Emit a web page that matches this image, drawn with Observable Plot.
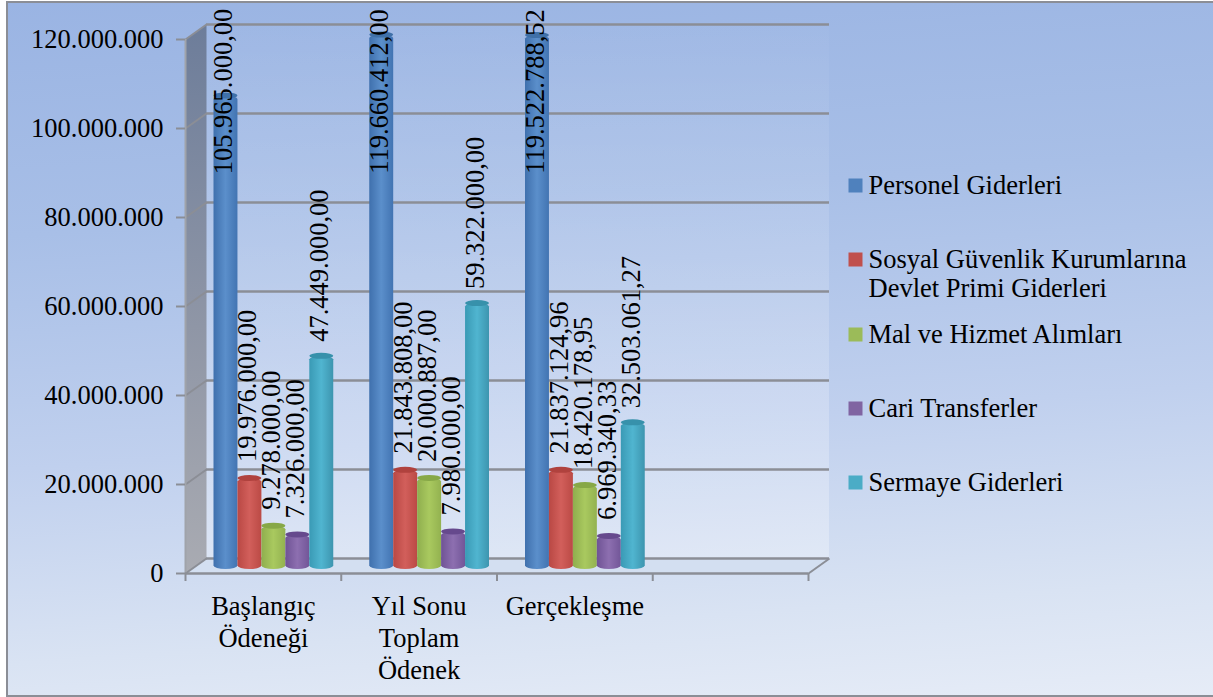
<!DOCTYPE html>
<html lang="tr">
<head>
<meta charset="utf-8">
<script src="https://cdn.jsdelivr.net/npm/d3@7"></script>
<script src="https://cdn.jsdelivr.net/npm/@observablehq/plot@0.6"></script>
<style>
  html, body { margin: 0; padding: 0; background: #fff; overflow: hidden; }
  #card { position: absolute; left: 6px; top: 1px; width: 1230px; height: 692px; border: 2px solid #8b8e96;
    background: linear-gradient(176deg, #9ab4e3 0%, #a8bfe7 30%, #c0d0ee 60%, #d9e3f3 85%, #e6ecf7 100%); }
  #chart { position: absolute; left: 0; top: 0; }
  svg { background: transparent !important; font-family: "Liberation Serif", serif; }
</style>
</head>
<body>
<div id="card"></div>
<div id="chart"></div>
<script>
const categories = ["Başlangıç\nÖdeneği", "Yıl Sonu\nToplam\nÖdenek", "Gerçekleşme"];
const seriesNames = ["Personel Giderleri", "Sosyal Güvenlik Kurumlarına\nDevlet Primi Giderleri", "Mal ve Hizmet Alımları", "Cari Transferler", "Sermaye Giderleri"];
const personel = [105965000.00, 119660412.00, 119522788.52];
const sosyal = [19976000.00, 21843808.00, 21837124.96];
const malHizmet = [9278000.00, 20000887.00, 18420178.95];
const cari = [7326000.00, 7980000.00, 6969340.33];
const sermaye = [47449000.00, 59322000.00, 32503061.27];
const yTicks = [0, 20000000, 40000000, 60000000, 80000000, 100000000, 120000000];
const groupTicks = [0, 1, 2, 3, 4];

const seriesValues = [personel, sosyal, malHizmet, cari, sermaye];
const bodyStops = [
  ["#3f70ad", "#5b8fcb", "#4274b2"],
  ["#b94844", "#d25f5b", "#bb4a45"],
  ["#8fae4e", "#a9c95f", "#93b250"],
  ["#6f5395", "#8d6fb0", "#725698"],
  ["#3a9ab5", "#50b5d0", "#3d95af"]
];
const capColors = ["#3f70a8", "#b0423e", "#87a847", "#66498d", "#3791ab"];
const legendColors = ["#4f81bd", "#c0504d", "#9bbb59", "#8064a2", "#4bacc6"];
const gridColor = "#8b8e96";
const fontSize = 26.5;
const yMax = 120000000;
const xMax = 4;
const depthPxX = 21, depthPxY = -15;
const barDy = -6;
const depthX = 21 / 155.75, depthY = 15 / 534 * yMax;
const groupInset = 18 / 155.75;
const barWidth = (1 - 2 * groupInset) / 5;
const labelDy = [0, -15, -15, -15, -13];
const legendX = 683;
const legendSlots = [146, 220, 295, 369, 443];

const trFormat = d3.formatLocale({decimal: ",", thousands: ".", grouping: [3]});
const fmt0 = trFormat.format(",.0f");
const fmt2 = trFormat.format(",.2f");

function rowsOf(s) {
  return seriesValues[s].map((v, i) => ({
    v,
    x1: i + groupInset + s * barWidth,
    x2: i + groupInset + (s + 1) * barWidth,
    xc: i + groupInset + (s + 0.5) * barWidth,
    label: fmt2(v)
  }));
}

function defs() {
  const d = d3.create("svg:defs");
  bodyStops.forEach((stops, s) => {
    const g = d.append("linearGradient").attr("id", "bar" + s).attr("x1", 0).attr("x2", 1).attr("y1", 0).attr("y2", 0);
    stops.forEach((c, k) => g.append("stop").attr("offset", [0, 0.5, 1][k]).attr("stop-color", c));
  });
  const wall = d.append("linearGradient").attr("id", "sideWall").attr("x1", 0).attr("x2", 0).attr("y1", 0).attr("y2", 1);
  wall.append("stop").attr("offset", 0).attr("stop-color", "#6d7d9a");
  wall.append("stop").attr("offset", 0.55).attr("stop-color", "#8f96a6");
  wall.append("stop").attr("offset", 1).attr("stop-color", "#a9abb2");
  const back = d.append("linearGradient").attr("id", "backWall").attr("x1", 0).attr("x2", 0).attr("y1", 0).attr("y2", 1);
  back.append("stop").attr("offset", 0).attr("stop-color", "#ffffff").attr("stop-opacity", 0.02);
  back.append("stop").attr("offset", 1).attr("stop-color", "#ffffff").attr("stop-opacity", 0.3);
  return d.node();
}

const barMarks = seriesValues.flatMap((_, s) => {
  const rows = rowsOf(s);
  return [
    Plot.rect(rows, {x1: "x1", x2: "x2", y1: () => 0, y2: "v", fill: `url(#bar${s})`, rx: 12, ry: 3.5, insetBottom: -2, dx: depthPxX / 2, dy: barDy}),
    Plot.rect(rows, {x1: "x1", x2: "x2", y1: "v", y2: "v", fill: capColors[s], rx: 12, ry: 3, insetTop: -3, insetBottom: -3, dx: depthPxX / 2, dy: barDy})
  ];
});

const labelMarks = seriesValues.map((_, s) => {
  const rows = rowsOf(s);
  return s === 0
    ? Plot.text(rows, {x: "xc", frameAnchor: "top", lineAnchor: "middle", text: "label", rotate: -90, textAnchor: "middle", fontSize, fill: "#000", dx: depthPxX / 2 - 2, dy: 52})
    : Plot.text(rows, {x: "xc", y: "v", text: "label", rotate: -90, textAnchor: "start", fontSize, fill: "#000", dx: depthPxX / 2 - 2, dy: depthPxY / 2 + labelDy[s]});
});

const legendMarks = seriesNames.flatMap((name, s) => [
  Plot.dot([name], {frameAnchor: "top-left", symbol: "square", r: 7.9, fill: legendColors[s], dx: legendX - 13, dy: legendSlots[s]}),
  Plot.text([name], {frameAnchor: "top-left", text: d => d, textAnchor: "start", lineAnchor: "top", fontSize, lineHeight: 1.12, fill: "#000", dx: legendX, dy: legendSlots[s] - 13})
]);

const plot = Plot.plot({
  width: 1213,
  height: 697,
  marginLeft: 185,
  marginRight: 405,
  marginTop: 39,
  marginBottom: 124,
  style: {background: "transparent", fontFamily: "'Liberation Serif', serif", overflow: "visible"},
  x: {type: "linear", domain: [0, xMax], axis: null},
  y: {type: "linear", domain: [0, yMax], axis: null},
  marks: [
    defs,
    // back wall, floor and side wall
    Plot.rect([0], {x1: () => 0, x2: () => xMax, y1: () => 0, y2: () => yMax, fill: "url(#backWall)", dx: depthPxX, dy: depthPxY}),
    Plot.line([[0, 0], [depthX, depthY], [xMax + depthX, depthY], [xMax, 0]], {x: d => d[0], y: d => d[1], curve: "linear-closed", fill: "#d3dff1", stroke: "none"}),
    Plot.line([[0, 0], [depthX, depthY], [depthX, yMax + depthY], [0, yMax]], {x: d => d[0], y: d => d[1], curve: "linear-closed", fill: "url(#sideWall)", stroke: "none"}),
    // gridlines on the back wall and the side wall
    Plot.ruleY(yTicks, {x1: () => 0, x2: () => xMax, stroke: gridColor, strokeWidth: 2.5, dx: depthPxX, dy: depthPxY}),
    Plot.link(yTicks, {x1: () => 0, y1: d => d, x2: () => depthX, y2: d => d + depthY, stroke: gridColor, strokeWidth: 2}),
    Plot.link([0], {x1: () => xMax, y1: () => 0, x2: () => xMax + depthX, y2: () => depthY, stroke: gridColor, strokeWidth: 2}),
    Plot.ruleX([0], {y1: () => 0, y2: () => yMax, stroke: "#a0a3aa", strokeWidth: 2}),
    Plot.ruleY([0], {stroke: gridColor, strokeWidth: 2.5}),
    Plot.axisY(yTicks, {anchor: "left", tickSize: 9, tickPadding: 13, tickFormat: fmt0, fontSize, stroke: gridColor, strokeWidth: 2, color: "#000", label: null}),
    Plot.axisX(groupTicks, {anchor: "bottom", tickSize: 8, tickFormat: () => "", stroke: gridColor, strokeWidth: 2, label: null}),
    // cylinders
    ...barMarks,
    ...labelMarks,
    // category labels
    Plot.text(categories, {x: (_, i) => i + 0.5, y: () => 0, text: d => d, lineAnchor: "top", fontSize, lineHeight: 1.2, fill: "#000", dy: 19}),
    ...legendMarks
  ]
});
document.getElementById("chart").appendChild(plot);
</script>
</body>
</html>
